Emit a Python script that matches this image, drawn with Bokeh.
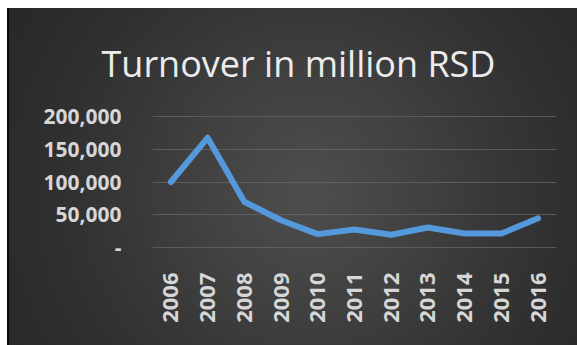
from bokeh.plotting import figure
from bokeh.models import Title, CustomJSTickFormatter, FixedTicker
from bokeh.embed import file_html
from bokeh.resources import INLINE

years = ["2006", "2007", "2008", "2009", "2010", "2011", "2012", "2013", "2014", "2015", "2016"]
turnover = [100000, 167000, 70000, 42000, 21000, 28000, 20000, 31000, 22000, 22000, 45000]
y_ticks = [0, 50000, 100000, 150000, 200000]
title_text = "Turnover in million RSD"

p = figure(x_range=years, y_range=(-800, 200800), width=570, height=337,
           output_backend="svg", toolbar_location=None,
           min_border_left=143, min_border_right=23, min_border_top=107, min_border_bottom=97)
p.border_fill_color = None
p.background_fill_color = None
p.outline_line_color = None
p.styles = {
    "margin-left": "7px",
    "margin-top": "8px",
    "border-left": "2px solid #0a0a0a",
    "background": "radial-gradient(circle at 300px 185px, #4e4e4e 0px, #474747 60px, #404040 120px, #383838 180px, #303030 250px, #2a2a2a 320px, #252525 400px)",
}

t = Title(text=title_text, align="left", text_font="Open Sans", text_font_size="36px",
          text_color="#ececec", text_font_style="normal", offset=-51, standoff=56)
p.add_layout(t, "above")

p.line(years, turnover, line_color="#5599dd", line_width=6, line_join="round", line_cap="round")

p.yaxis.ticker = FixedTicker(ticks=y_ticks)
p.yaxis.formatter = CustomJSTickFormatter(code="""
return tick == 0 ? "-" : tick.toLocaleString("en-US");
""")
for ax in (p.xaxis, p.yaxis):
    ax.axis_line_color = None
    ax.major_tick_line_color = None
    ax.minor_tick_line_color = None
    ax.major_label_text_color = "#d6d6d6"
    ax.major_label_text_font = "Open Sans"
    ax.major_label_text_font_style = "bold"
p.yaxis.major_label_text_font_size = "21px"
p.xaxis.major_label_text_font_size = "22px"
p.yaxis.major_label_standoff = 25
p.xaxis.major_label_standoff = 18
p.xaxis.major_label_orientation = 1.5708
p.xgrid.grid_line_color = None
p.ygrid.grid_line_color = "#6a6a6a"
p.ygrid.grid_line_alpha = 0.7
p.ygrid.grid_line_width = 1

open("out.html", "w").write(file_html(p, INLINE))
